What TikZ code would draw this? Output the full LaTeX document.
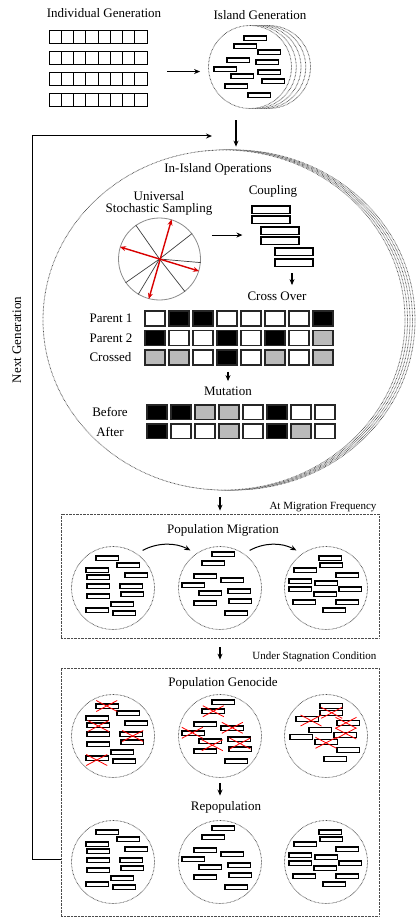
\documentclass[tikz,border=0pt]{standalone}
\usepackage{fontspec}
\setmainfont{Liberation Serif}
\usetikzlibrary{arrows.meta,shapes.geometric,positioning}

\colorlet{cg}{black!27}
\tikzset{
  arr/.style={-{Stealth[length=6pt,width=5pt]}, line width=1.1pt},
  dotline/.style={draw=black!70, line width=0.8pt, dash pattern=on 0.6pt off 0.8pt},
  isle/.style={dotline, circle, fill=white, minimum size=83pt, inner sep=0pt},
  bigisle/.style={dotline, ellipse, fill=white, minimum width=362pt, minimum height=340pt, inner sep=0pt},
  popc/.style={dotline, circle, minimum size=83pt, inner sep=0pt},
  popbox/.style={dotline, rectangle, inner sep=0pt},
  chromo/.style={draw=black, line width=1.1pt, fill=white},
  cell/.style={draw=black!85, line width=1.1pt, minimum width=20pt, minimum height=15pt, inner sep=0pt},
  gcell/.style={draw, line width=0.9pt, minimum width=12.25pt, minimum height=13pt, inner sep=0pt},
  cpl/.style={draw, line width=1.1pt, minimum width=38pt, minimum height=7.5pt, inner sep=0pt},
  xcut/.style={red, line width=0.8pt},
  titlefont/.style={font=\fontsize{13}{12}\selectfont},
  notefont/.style={font=\fontsize{11}{12}\selectfont},
}
% bar layouts inside the islands (top left corners, from the centre)
\newcommand{\layA}{-17/-32,4/-25,-27/-20,12/-15,-26/-13,-26/-4,7/-4,8/4,-26/6,-2/14,-27/20,0/23}
\newcommand{\layB}{-8/-36,-18/-27,-26/-14,1/-10,-38/-5,8/1,-21/3,9/11,-26/13,5/23}
\newcommand{\layC}{-7/-32,-32/-20,-6/-25,10/-15,-37/-9,-11/-7,-37/-1,13/-1,-12/4,-33/12,10/12,-3/20}
\newcommand{\layD}{-6/-32.5,-6/-25.5,-30/-19.5,11/-15.5,-17/-8.5,8/-3.5,-36/-1.5,-11/3.5,11/11.5,-2/20.5}
\newcommand{\popbars}[2]{%
  \begin{scope}[shift={(#1.center)}]
    \foreach \dx/\dy in #2 \draw[chromo] (\dx,\dy) rectangle +(22.7,4.7);
  \end{scope}}

\begin{document}
\begin{tikzpicture}[x=1pt,y=-1pt]
\useasboundingbox (0,0) rectangle (416,920);

% individual generation
\node[titlefont] (indgen) at (104,13.5) {Individual Generation};
\foreach \r in {0,...,3}
  \foreach \i in {0,...,7}
    \node[gcell] (g\r-\i) at (55.125+12.25*\i,36.5+21*\r) {};

% island generation
\node[titlefont] (islgen) at (260,15) {Island Generation};
\foreach \k in {4,3,2,1}
  \node[isle] (isl-\k) at (250+4.75*\k,67) {};
\node[isle] (island) at (250,67) {};
\begin{scope}[shift={(island.center)}]
  \foreach \dx/\dy in {-6/-31,-16/-23,8/-17,-23/-9,6/-7,-36/0,8/3,-19/7,12/12,-25/17,-2/26}
    \draw[chromo] (\dx,\dy) rectangle +(22.7,4.7);
\end{scope}
\draw[arr, shorten <=20pt, shorten >=8pt] (g2-7.north east) -- (g2-7.north east -| island.west);

% in-island operations
\foreach \k in {4,3,2,1}
  \node[bigisle] (ops-\k) at (224+2.5*\k,320) {};
\node[bigisle] (ops) at (224,320) {};
\draw[arr, shorten <=11.5pt, shorten >=3pt] ([xshift=-14pt]island.south) -- ([xshift=-14pt]island.south |- ops.north);
\node[titlefont] (opslbl) at (218,169) {In-Island Operations};

% selection wheel
\node[titlefont, align=center] (usslbl) at (159,203) {Universal\\Stochastic Sampling};
\node[circle, draw=black!45, line width=0.8pt, minimum size=82pt, inner sep=0pt] (wheel) at (159.5,259) {};
\foreach \a in {125,-52,38,215,-5,-121}
  \draw[black!75, line width=0.7pt] (wheel.center) -- (wheel.\a);
\draw[red!85!black, line width=1.4pt, {Stealth[length=6pt,width=5pt]}-{Stealth[length=6pt,width=5pt]}] (wheel.73) -- (wheel.255);
\draw[red!85!black, line width=1.4pt, {Stealth[length=6pt,width=5pt]}-{Stealth[length=6pt,width=5pt]}] (wheel.163) -- (wheel.-17);

% coupling
\node[titlefont] (cpllbl) at (273,191) {Coupling};
\node[cpl] (cp1a) at (271,209.75) {};
\node[cpl] (cp1b) at (271,219.75) {};
\node[cpl] (cp2a) at (280,230.75) {};
\node[cpl] (cp2b) at (280,240.75) {};
\node[cpl] (cp3a) at (294,251.75) {};
\node[cpl] (cp3b) at (294,262.75) {};
\draw[arr, shorten <=11pt, shorten >=18pt] (wheel.east |- cp2a.south) -- (cp2a.south west);

% cross over
\node[titlefont] (colbl) at (277,296) {Cross Over};
\draw[arr, shorten <=6pt, shorten >=3pt] ([xshift=-2pt]cp3b.south) -- ([xshift=-2pt]cp3b.south |- colbl.north);
\foreach \c [count=\i from 0] in {white,black,black,white,white,white,white,black}
  \node[cell, fill=\c] (pa-\i) at (155+24*\i,318.5) {};
\foreach \c [count=\i from 0] in {black,white,white,black,white,black,white,cg}
  \node[cell, fill=\c] (pb-\i) at (155+24*\i,338) {};
\foreach \c [count=\i from 0] in {cg,cg,white,black,white,cg,white,cg}
  \node[cell, fill=\c] (cr-\i) at (155+24*\i,357.5) {};
\node[titlefont, anchor=west] (p1lbl) at (86,318.5) {Parent 1};
\node[titlefont, anchor=west] (p2lbl) at (86,338) {Parent 2};
\node[titlefont, anchor=west] (crlbl) at (86,357.5) {Crossed};

% mutation
\node[titlefont] (mutlbl) at (228,391) {Mutation};
\draw[arr, shorten <=6pt, shorten >=2pt] (mutlbl.north |- cr-3.south) -- (mutlbl.north);
\foreach \c [count=\i from 0] in {black,black,cg,cg,white,black,white,white}
  \node[cell, fill=\c, minimum height=14.5pt] (bf-\i) at (157+24*\i,412.25) {};
\foreach \c [count=\i from 0] in {black,white,white,cg,white,black,cg,white}
  \node[cell, fill=\c, minimum height=14.5pt] (af-\i) at (157+24*\i,431.25) {};
\node[titlefont] (beflbl) at (110,412) {Before};
\node[titlefont] (aftlbl) at (110,431.5) {After};

% population migration
\node[popbox, minimum width=318pt, minimum height=124pt] (migbox) at (220,576) {};
\draw[arr, shorten <=7pt, shorten >=3pt] (migbox.north |- ops.south) -- (migbox.north);
\node[notefont, anchor=base east] (migfreq) at (380,509) {At Migration Frequency};
\node[titlefont] (migttl) at (223,530) {Population Migration};
\node[popc] (mig1) at (113,588) {};
\node[popc] (mig2) at (220,588) {};
\node[popc] (mig3) at (326,588) {};
\popbars{mig1}{\layA}
\popbars{mig2}{\layB}
\popbars{mig3}{\layC}
\draw[arr, line width=1pt] ([yshift=8pt]mig1.north east) .. controls +(15,-8) and +(-15,-8) .. ([yshift=8pt]mig2.north west);
\draw[arr, line width=1pt] ([yshift=8pt]mig2.north east) .. controls +(15,-8) and +(-15,-8) .. ([yshift=8pt]mig3.north west);

% genocide and repopulation
\node[popbox, minimum width=318pt, minimum height=248pt] (genbox) at (220,792) {};
\draw[arr, shorten <=9pt, shorten >=8pt] (migbox.south) -- (genbox.north);
\node[notefont, anchor=base east] (stagcond) at (380,659.5) {Under Stagnation Condition};
\node[titlefont] (genttl) at (223,683) {Population Genocide};
\node[popc] (gen1) at (113,736) {};
\node[popc] (gen2) at (220,736) {};
\node[popc] (gen3) at (326,736) {};
\popbars{gen1}{\layA}
\popbars{gen2}{\layB}
\popbars{gen3}{\layD}
\begin{scope}[shift={(gen1.center)}]
  \foreach \u/\v in {-6.3/-30,-14.7/-10,19.7/0,-16.3/24}
    \draw[xcut] (\u,\v) ++(-10.5,-5.5) -- ++(21,11) ++(-21,0) -- ++(21,-11);
\end{scope}
\begin{scope}[shift={(gen2.center)}]
  \foreach \u/\v in {-6.7/-24.8,12.3/-8.2,-27.7/-3.2,-7.7/9.2,20/7.5}
    \draw[xcut] (\u,\v) ++(-10.5,-5.5) -- ++(21,11) ++(-21,0) -- ++(21,-11);
\end{scope}
\begin{scope}[shift={(gen3.center)}]
  \foreach \u/\v in {5.7/-23.2,-15/-15.5,20/-13.2,19.7/-2.5,0/6.8}
    \draw[xcut] (\u,\v) ++(-10.5,-5.5) -- ++(21,11) ++(-21,0) -- ++(21,-11);
\end{scope}
\node[titlefont] (repttl) at (226,807) {Repopulation};
\draw[arr, shorten <=5pt, shorten >=2pt] (gen2.south) -- (gen2.south |- repttl.north);
\node[popc] (rep1) at (113,862) {};
\node[popc] (rep2) at (220,862) {};
\node[popc] (rep3) at (326,862) {};
\popbars{rep1}{\layA}
\popbars{rep2}{\layB}
\popbars{rep3}{\layC}

% next generation loop
\coordinate (fbend) at (212,136);
\draw[arr, line width=1pt] ([yshift=3pt]genbox.west |- rep1.center) -- ++(-28,0) |- (fbend);
\node[titlefont, rotate=90] (nextgen) at (17,340) {Next Generation};
\end{tikzpicture}
\end{document}
